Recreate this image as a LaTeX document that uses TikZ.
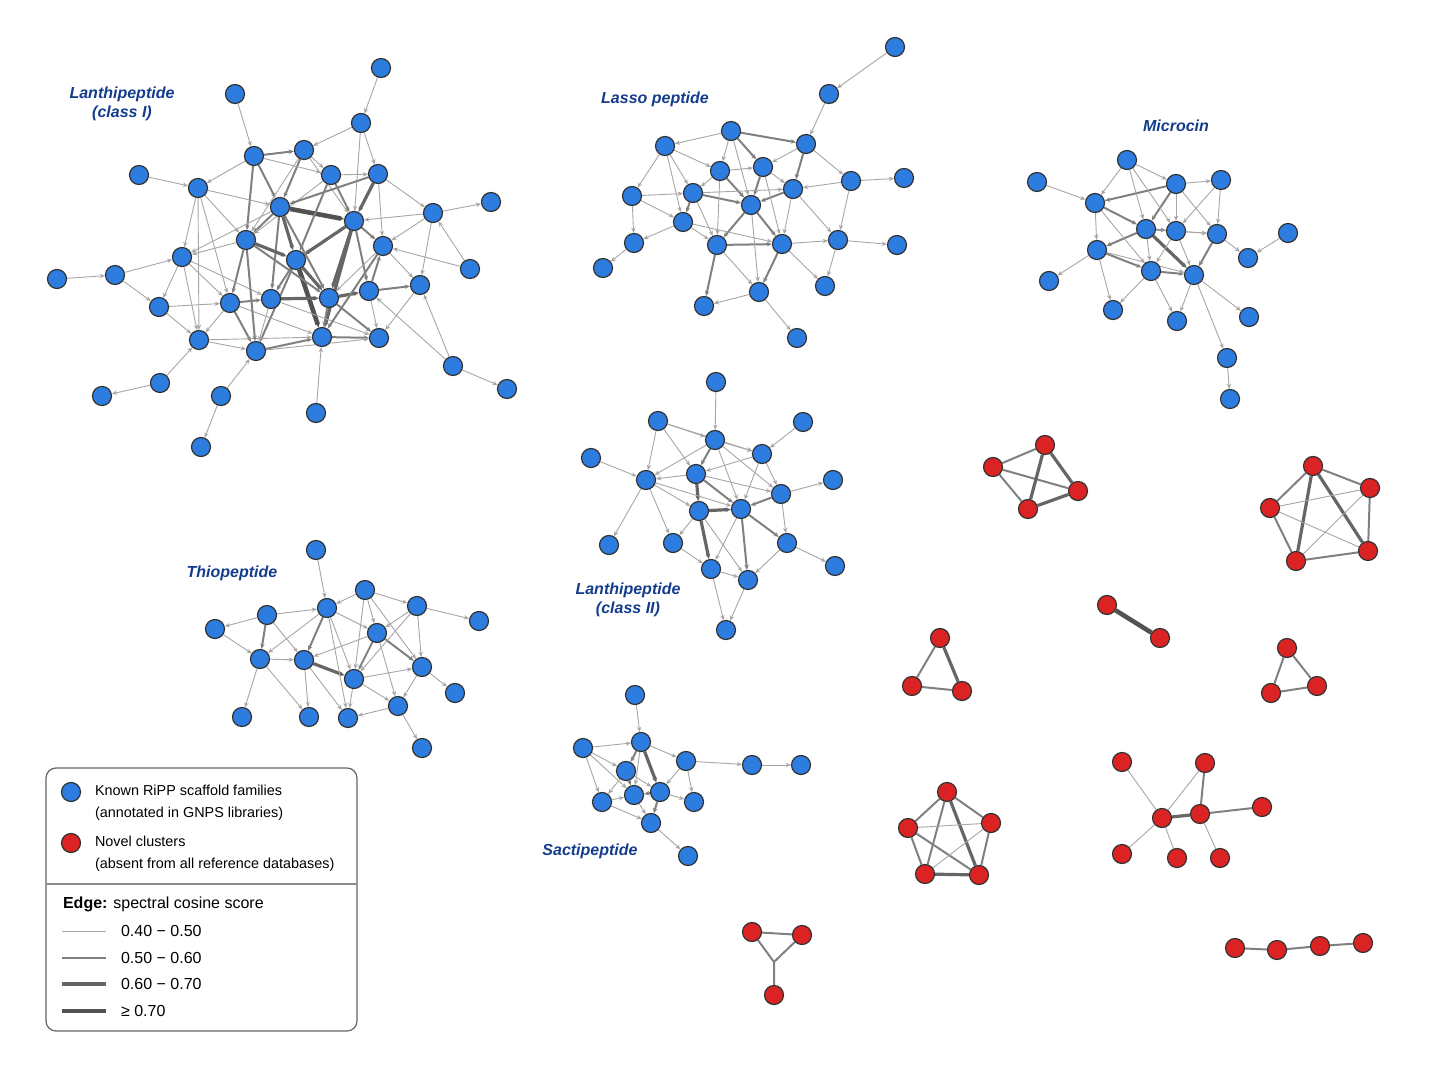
\documentclass[tikz,border=0pt]{standalone}
\usepackage{fontspec}
\setmainfont{Liberation Sans}
\usetikzlibrary{arrows.meta,backgrounds}
\definecolor{nblue}{RGB}{45,125,225}
\definecolor{nred}{RGB}{220,35,35}
\definecolor{lblue}{RGB}{20,60,140}
\begin{document}
\begin{tikzpicture}[x=0.5pt,y=-0.5pt,
 B/.style={circle,fill=nblue,draw=black!80,line width=0.6pt,minimum size=9.5pt,inner sep=0pt},
 R/.style={circle,fill=nred,draw=black!80,line width=0.6pt,minimum size=9.5pt,inner sep=0pt},
 w1/.style={line width=0.45pt,draw=black!35},
 w2/.style={line width=1pt,draw=black!50},
 w3/.style={line width=1.6pt,draw=black!60},
 w4/.style={line width=2.3pt,draw=black!68},
 tip/.style={-{Stealth[length=2.6pt,width=2.2pt]}},
 lab/.style={font=\bfseries\itshape\fontsize{8}{9.5}\selectfont,text=lblue,align=center}]
\useasboundingbox (0,0) rectangle (1440,1080);
% ---------- Lanthipeptide I
\foreach \n/\x/\y in {a1/381/68,a2/235/94,a3/361/123,a4/254/156,a5/304/150,a6/331/175,a7/378/174,a8/139/175,a9/198/188,a10/433/213,a11/491/202,a12/280/207,a13/354/221,a14/246/240,a15/383/246,a16/182/257,a17/296/260,a18/470/269,a19/57/279,a20/115/275,a21/159/307,a22/230/303,a23/271/299,a24/329/298,a25/369/291,a26/420/285,a27/199/340,a28/256/351,a29/322/337,a30/379/338,a31/453/366,a32/507/389,a33/160/383,a34/102/396,a35/221/396,a36/316/413,a37/201/447}
 \node[B] (\n) at (\x,\y) {};
% ---------- Lasso
\foreach \n/\x/\y in {b1/895/47,b2/829/94,b3/731/131,b4/665/146,b5/806/144,b6/720/171,b7/763/167,b8/851/181,b9/904/178,b10/632/196,b11/693/193,b12/793/189,b13/751/205,b14/683/222,b15/717/245,b16/782/244,b17/838/240,b18/897/245,b19/634/243,b20/603/268,b21/759/292,b22/825/286,b23/704/306,b24/797/338}
 \node[B] (\n) at (\x,\y) {};
% ---------- Microcin
\foreach \n/\x/\y in {c1/1127/160,c2/1037/182,c3/1176/184,c4/1221/180,c5/1095/203,c6/1146/229,c7/1176/231,c8/1217/234,c9/1288/233,c10/1097/250,c11/1248/258,c12/1151/271,c13/1194/275,c14/1049/281,c15/1113/310,c16/1177/321,c17/1249/317,c18/1227/358,c19/1230/399}
 \node[B] (\n) at (\x,\y) {};
% ---------- Lanthipeptide II
\foreach \n/\x/\y in {d1/716/382,d2/658/421,d3/803/422,d4/715/440,d5/762/454,d6/591/458,d7/696/474,d8/646/480,d9/781/494,d10/833/480,d11/699/511,d12/741/509,d13/609/545,d14/673/543,d15/787/543,d17/711/569,d18/748/580,d19/835/566,d20/726/630}
 \node[B] (\n) at (\x,\y) {};
% ---------- Thiopeptide
\foreach \n/\x/\y in {e1/316/550,e2/365/590,e3/417/606,e4/267/615,e5/327/608,e6/215/629,e7/377/633,e8/479/621,e9/260/659,e10/304/660,e11/354/679,e12/422/667,e13/455/693,e14/398/706,e15/242/717,e16/309/717,e17/348/718,e18/422/748}
 \node[B] (\n) at (\x,\y) {};
% ---------- Sactipeptide
\foreach \n/\x/\y in {f1/635/695,f2/583/748,f3/641/742,f4/626/771,f6/686/761,f7/660/792,f8/634/795,f9/602/802,f10/694/802,f11/651/823,f12/688/856,f13/752/765,f14/801/765}
 \node[B] (\n) at (\x,\y) {};
% ---------- red
\foreach \n/\x/\y in {r1/1045/445,r2/993/467,r3/1078/491,r4/1028/509,
 s1/1313/466,s2/1370/488,s3/1270/508,s4/1368/551,s5/1296/561,
 t1/1107/605,t2/1160/638, u1/940/638,u2/912/686,u3/962/691,
 v1/1287/648,v2/1271/693,v3/1317/686,
 x1/1122/762,x2/1205/763,x3/1162/818,x4/1200/814,x5/1262/807,x6/1122/854,x7/1177/858,x8/1220/858,
 y1/947/792,y2/908/828,y3/991/823,y4/925/874,y5/979/875,
 z1/752/932,z2/802/935,z3/774/995,
 q1/1235/948,q2/1277/950,q3/1320/946,q4/1363/943}
 \node[R] (\n) at (\x,\y) {};
\coordinate (zc) at (774,962);
\begin{scope}[on background layer]
\foreach \a/\b/\w in {a1/a3/w1,a2/a4/w1,a3/a7/w1,a3/a5/w1,a3/a13/w1,a8/a9/w1,a10/a11/w1,a10/a13/w1,a10/a26/w1,a19/a20/w1,a20/a16/w1,a20/a21/w1,a21/a27/w1,a33/a34/w1,a33/a27/w1,a35/a37/w1,a35/a28/w1,a36/a29/w1,a31/a32/w1,a31/a26/w1,a18/a15/w1,a18/a10/w1,a31/a25/w1,
a4/a5/w2,a4/a12/w2,a4/a9/w1,a4/a14/w2,a5/a6/w1,a5/a12/w2,a5/a13/w1,a6/a7/w1,a6/a13/w2,a7/a13/w3,a7/a15/w1,a9/a14/w1,a9/a12/w1,a9/a16/w1,a12/a13/w4,a12/a14/w2,a12/a17/w3,a12/a23/w2,a13/a17/w3,a13/a15/w2,a13/a24/w3,a13/a29/w3,a14/a17/w3,a14/a22/w2,a14/a16/w1,a16/a22/w1,a16/a27/w1,a17/a23/w2,a17/a24/w3,a17/a28/w2,a17/a29/w4,a22/a23/w2,a22/a27/w1,a22/a28/w2,a23/a24/w3,a23/a28/w1,a24/a25/w3,a24/a29/w2,a25/a26/w2,a25/a30/w1,a25/a15/w2,a26/a30/w1,a27/a28/w1,a28/a29/w2,a29/a30/w2,a14/a24/w2,a12/a24/w2,a13/a25/w2,a6/a14/w1,a22/a29/w1,a23/a30/w1,a5/a14/w1,a15/a26/w1,a10/a15/w1,a7/a10/w1,a9/a22/w1,a16/a23/w1,a28/a30/w1,a6/a17/w2,a4/a6/w1,a9/a27/w1,a21/a22/w1,a27/a29/w1,a14/a28/w2,a15/a29/w2,a24/a30/w2,a12/a16/w1,a7/a12/w2,a16/a21/w1,a15/a24/w1,
b1/b2/w1,b2/b5/w1,b3/b4/w1,b3/b5/w2,b3/b6/w1,b3/b7/w2,b4/b6/w1,b4/b10/w1,b5/b7/w1,b5/b12/w2,b5/b8/w1,b6/b11/w1,b6/b13/w2,b6/b7/w1,b7/b13/w2,b7/b12/w1,b8/b9/w1,b8/b12/w1,b8/b17/w1,b10/b11/w1,b10/b14/w1,b10/b19/w1,b11/b14/w2,b11/b13/w2,b12/b13/w2,b12/b16/w1,b12/b17/w1,b13/b15/w2,b13/b16/w2,b14/b15/w1,b14/b19/w1,b15/b16/w2,b15/b21/w1,b15/b23/w2,b16/b17/w1,b16/b21/w2,b16/b22/w1,b17/b18/w1,b17/b22/w1,b19/b20/w1,b21/b24/w1,b21/b23/w1,b6/b15/w1,b11/b15/w1,b4/b11/w1,b3/b13/w1,b7/b16/w1,b13/b21/w1,b14/b16/w1,b11/b12/w1,b4/b14/w1,
c1/c3/w1,c1/c5/w1,c2/c5/w1,c3/c4/w1,c3/c5/w2,c3/c6/w2,c3/c7/w1,c3/c8/w1,c4/c8/w1,c5/c6/w2,c5/c10/w1,c6/c7/w2,c6/c10/w2,c6/c12/w1,c6/c13/w3,c7/c8/w1,c7/c13/w1,c7/c12/w1,c8/c11/w1,c8/c13/w2,c9/c11/w1,c10/c12/w2,c10/c14/w1,c10/c15/w1,c12/c13/w2,c12/c15/w1,c13/c16/w1,c13/c17/w1,c13/c18/w1,c18/c19/w1,c5/c12/w1,c6/c8/w1,c1/c6/w1,c10/c13/w1,c12/c16/w1,c4/c7/w1,c1/c7/w1,
d1/d4/w1,d2/d4/w1,d2/d8/w1,d3/d5/w1,d4/d5/w1,d4/d7/w2,d4/d8/w1,d5/d7/w1,d5/d9/w1,d5/d12/w1,d6/d8/w1,d7/d8/w1,d7/d11/w3,d7/d12/w2,d8/d11/w1,d8/d14/w1,d8/d13/w1,d9/d10/w1,d9/d12/w2,d9/d15/w1,d11/d12/w3,d11/d14/w1,d11/d17/w3,d12/d15/w2,d12/d18/w2,d12/d17/w1,d14/d17/w1,d15/d18/w1,d15/d19/w1,d17/d18/w1,d17/d20/w1,d18/d20/w1,d2/d7/w1,d4/d12/w1,d11/d18/w1,d2/d5/w1,d4/d9/w1,d7/d9/w1,d8/d12/w1,
e1/e5/w1,e2/e5/w1,e2/e3/w1,e2/e7/w1,e3/e7/w1,e3/e8/w1,e3/e12/w1,e4/e5/w1,e4/e9/w2,e4/e6/w1,e5/e7/w1,e5/e10/w2,e5/e11/w1,e5/e9/w1,e7/e11/w2,e7/e12/w2,e7/e10/w1,e9/e10/w1,e9/e15/w1,e9/e16/w1,e10/e11/w3,e10/e16/w1,e10/e17/w1,e11/e12/w1,e11/e14/w1,e11/e17/w1,e12/e13/w1,e12/e14/w1,e14/e18/w1,e14/e17/w1,e6/e9/w1,e4/e10/w1,e2/e11/w1,e7/e14/w1,e2/e12/w1,e5/e17/w1,e3/e11/w1,
f1/f3/w1,f2/f3/w1,f2/f4/w1,f3/f4/w2,f3/f6/w1,f3/f7/w3,f4/f7/w1,f4/f9/w1,f4/f8/w2,f6/f7/w1,f6/f10/w1,f7/f8/w2,f7/f10/w1,f7/f11/w2,f8/f11/w1,f9/f8/w1,f9/f11/w1,f11/f12/w1,f6/f13/w1,f13/f14/w1,f2/f9/w1,f3/f8/w1,f2/f8/w1}
 \draw[\w,tip] (\a) -- (\b);
\foreach \a/\b/\w in {r1/r2/w2,r1/r3/w3,r3/r4/w3,r4/r2/w2,r2/r3/w2,r1/r4/w3,
 s1/s2/w2,s2/s4/w2,s4/s5/w2,s5/s3/w2,s3/s1/w2,s1/s4/w3,s1/s5/w3,s3/s4/w1,s2/s3/w1,s2/s5/w1,
 t1/t2/w4, u1/u2/w2,u2/u3/w2,u1/u3/w3, v1/v2/w2,v2/v3/w2,v1/v3/w2,
 x1/x3/w1,x2/x4/w2,x3/x4/w3,x4/x5/w2,x3/x6/w1,x3/x7/w1,x4/x8/w1,x2/x3/w1,
 y1/y2/w2,y1/y3/w2,y2/y4/w2,y4/y5/w3,y3/y5/w2,y1/y4/w2,y1/y5/w3,y2/y3/w1,y2/y5/w2,y3/y4/w1,
 z1/z2/w2,q1/q2/w2,q2/q3/w2,q3/q4/w2}
 \draw[\w] (\a) -- (\b);
\draw[w2] (z1) -- (zc) -- (z2) (zc) -- (z3);
\end{scope}
% labels
\node[lab] at (122,104) {Lanthipeptide\\(class I)};
\node[lab] at (655,99) {Lasso peptide};
\node[lab] at (1176,126) {Microcin};
\node[lab] at (232,573) {Thiopeptide};
\node[lab] at (628,600) {Lanthipeptide\\(class II)};
\node[lab] at (590,851) {Sactipeptide};
% legend
\draw[black!60,line width=0.6pt,rounded corners=5pt] (46,768) rectangle (357,1031);
\draw[black!45,line width=0.6pt] (46,884) -- (357,884);
\node[B] (lb) at (71,792) {};
\node[R] (lr) at (71,843) {};
\tikzset{lt/.style={anchor=west,font=\fontsize{7.2}{11}\selectfont,align=left}}
\node[lt] (t1) at (88,803) {Known RiPP scaffold families\\(annotated in GNPS libraries)};
\node[lt] (t2) at (88,854) {Novel clusters\\(absent from all reference databases)};
\node[lt,font=\fontsize{8}{9}\selectfont] (t3) at (56,904) {\textbf{Edge:} spectral cosine score};
\tikzset{lv/.style={anchor=west,font=\fontsize{8}{9}\selectfont}}
\foreach \y/\w/\t [count=\i] in {931/w1/{0.40 − 0.50},958/w2/{0.50 − 0.60},984/w3/{0.60 − 0.70},1011/w4/{≥ 0.70}}{
 \coordinate (ls\i) at (62,\y); \coordinate (le\i) at (106,\y);
 \draw[\w] (ls\i) -- (le\i);
 \node[lv] (lv\i) at (114,\y) {\t};}
\end{tikzpicture}
\end{document}
